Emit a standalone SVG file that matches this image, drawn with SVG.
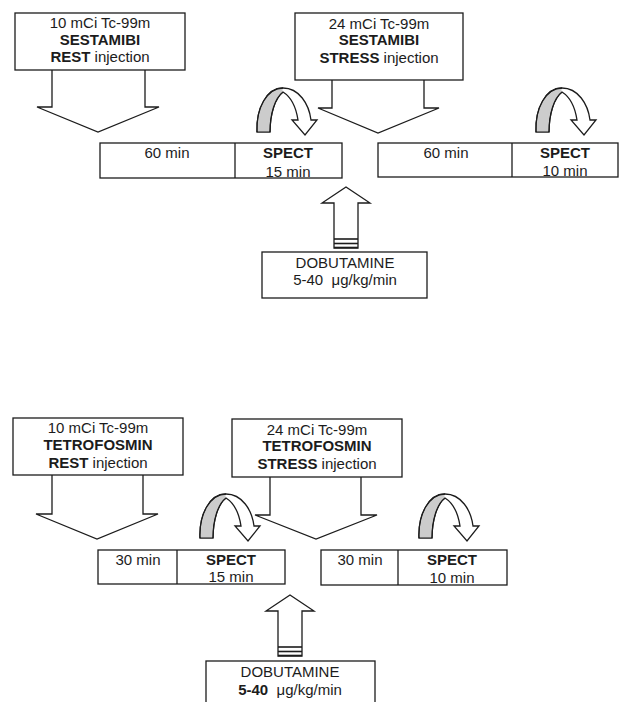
<svg xmlns="http://www.w3.org/2000/svg" width="620" height="702" viewBox="0 0 620 702">
<style>
.box{fill:#fff;stroke:#1c1c1c;stroke-width:1.3}
.ln{fill:#fff;stroke:#1c1c1c;stroke-width:1.3;stroke-linejoin:miter}
.t{font-family:"Liberation Sans",Arial,sans-serif;font-size:15px;fill:#1c1c1c;text-anchor:middle}
.b{font-weight:bold}
.gray{fill:#cccccc;stroke:none}
.stripe{stroke:#1c1c1c;stroke-width:1.6}
</style>
<defs>
<g id="curl">
<path class="ln" d="M257,132 C256,108 267,88 283,88 C299,88 309,104 311,120 L317,120 L305,135 L292,120 L298,120 C296,107 291,97 283,92 C275,98 270,114 270,132 Z"/>
<path class="gray" d="M257.7,131.3 C257,108 267,89 282.5,88.8 L282.5,92.5 C274.5,98.5 269.3,114 269.3,131.3 Z"/>
<path d="M257,132 C256,108 267,88 283,88 M283,92 C275,98 270,114 270,132" fill="none" stroke="#1c1c1c" stroke-width="1.3"/>
</g>
<g id="upArrow">
<path class="ln" d="M0,0 L24,16 L12,16 L12,61 L-12,61 L-12,16 L-24,16 Z"/>
<line class="stripe" x1="-12" y1="52" x2="12" y2="52"/>
<line class="stripe" x1="-12" y1="56.5" x2="12" y2="56.5" stroke-width="2.2"/>
<line class="stripe" x1="-12" y1="60.5" x2="12" y2="60.5"/>
</g>
</defs>

<g id="connectors">
<path class="ln" d="M52,70 L52,107 L37,107 L98,132 L159,107 L145,107 L145,70"/>
<path class="ln" d="M332,80 L332,108 L318,108 L378,133 L439,108 L424,108 L424,80"/>
<path class="ln" d="M52,475 L52,514 L36,514 L97,539 L158,514 L143,514 L143,475"/>
<path class="ln" d="M270,477 L270,515 L255,515 L316,539 L377,515 L361,515 L361,477"/>
<use href="#curl"/>
<use href="#curl" transform="translate(279,0)"/>
<use href="#curl" transform="translate(-57,406)"/>
<use href="#curl" transform="translate(162,406)"/>
<use href="#upArrow" transform="translate(346,187)"/>
<use href="#upArrow" transform="translate(290,595)"/>
</g>

<g id="sestamibi-rest">
<rect class="box" x="15" y="13" width="170" height="57"/>
<text class="t" x="100" y="28">10 mCi Tc-99m</text>
<text class="t b" x="100" y="45">SESTAMIBI</text>
<text class="t" x="100" y="62"><tspan class="b">REST</tspan> injection</text>
</g>

<g id="sestamibi-stress">
<rect class="box" x="295" y="13" width="168" height="67"/>
<text class="t" x="379" y="29">24 mCi Tc-99m</text>
<text class="t b" x="379" y="45">SESTAMIBI</text>
<text class="t" x="379" y="63"><tspan class="b">STRESS</tspan> injection</text>
</g>

<g id="sestamibi-bar1">
<rect class="box" x="100" y="143" width="242" height="35"/>
<line class="box" x1="235" y1="143" x2="235" y2="178"/>
<text class="t" x="167" y="158">60 min</text>
<text class="t b" x="288" y="158">SPECT</text>
<text class="t" x="288" y="177">15 min</text>
</g>

<g id="sestamibi-bar2">
<rect class="box" x="378" y="143" width="240" height="34"/>
<line class="box" x1="512" y1="143" x2="512" y2="177"/>
<text class="t" x="446" y="158">60 min</text>
<text class="t b" x="565" y="158">SPECT</text>
<text class="t" x="565" y="176">10 min</text>
</g>

<g id="dobutamine-top">
<rect class="box" x="262" y="252" width="165" height="46"/>
<text class="t" x="345" y="268">DOBUTAMINE</text>
<text class="t" x="345" y="285">5-40&#160; μg/kg/min</text>
</g>

<g id="tetrofosmin-rest">
<rect class="box" x="13" y="418" width="170" height="57"/>
<text class="t" x="98" y="433">10 mCi Tc-99m</text>
<text class="t b" x="98" y="450">TETROFOSMIN</text>
<text class="t" x="98" y="468"><tspan class="b">REST</tspan> injection</text>
</g>

<g id="tetrofosmin-stress">
<rect class="box" x="232" y="419" width="170" height="58"/>
<text class="t" x="317" y="435">24 mCi Tc-99m</text>
<text class="t b" x="317" y="451">TETROFOSMIN</text>
<text class="t" x="317" y="469"><tspan class="b">STRESS</tspan> injection</text>
</g>

<g id="tetrofosmin-bar1">
<rect class="box" x="98" y="550" width="187" height="34"/>
<line class="box" x1="177" y1="550" x2="177" y2="584"/>
<text class="t" x="138" y="565">30 min</text>
<text class="t b" x="231" y="565">SPECT</text>
<text class="t" x="231" y="582">15 min</text>
</g>

<g id="tetrofosmin-bar2">
<rect class="box" x="321" y="550" width="186" height="35"/>
<line class="box" x1="398" y1="550" x2="398" y2="585"/>
<text class="t" x="360" y="565">30 min</text>
<text class="t b" x="452" y="565">SPECT</text>
<text class="t" x="452" y="583">10 min</text>
</g>

<g id="dobutamine-bottom">
<rect class="box" x="206" y="661" width="169" height="45"/>
<text class="t" x="290" y="677">DOBUTAMINE</text>
<text class="t" x="290" y="695"><tspan class="b">5-40</tspan>&#160; μg/kg/min</text>
</g>
</svg>
